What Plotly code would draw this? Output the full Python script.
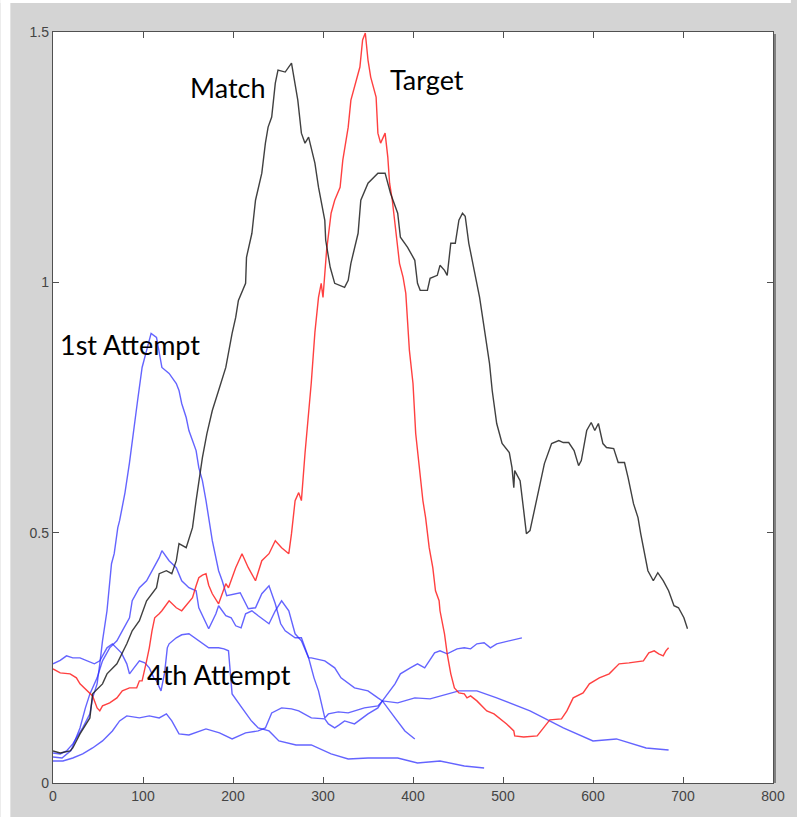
import plotly.graph_objects as go

# ---------------- data ----------------
match_x = [0, 8, 19, 22, 30, 41, 44, 55, 60, 71, 82, 88, 96, 104, 115, 118, 126, 132, 137, 140, 148, 155, 159, 162, 166, 171, 177, 184, 192, 199, 203, 206, 214, 215, 221, 225, 232, 236, 239, 243, 247, 250, 258, 265, 269, 272, 276, 280, 284, 287, 291, 295, 298, 302, 303, 308, 313, 324, 328, 331, 339, 342, 350, 361, 369, 372, 375, 383, 386, 394, 402, 405, 408, 416, 419, 427, 430, 435, 438, 442, 447, 451, 455, 458, 462, 468, 474, 479, 485, 488, 493, 499, 507, 510, 512, 513, 519, 523, 526, 530, 534, 541, 546, 554, 562, 567, 573, 579, 584, 587, 593, 598, 602, 606, 611, 615, 623, 628, 635, 639, 645, 650, 653, 661, 667, 672, 678, 684, 690, 695, 701, 705]
match_y = [0.064, 0.06, 0.064, 0.07, 0.098, 0.13, 0.178, 0.198, 0.218, 0.238, 0.278, 0.304, 0.324, 0.364, 0.39, 0.418, 0.424, 0.418, 0.444, 0.478, 0.47, 0.51, 0.564, 0.604, 0.65, 0.698, 0.744, 0.784, 0.83, 0.898, 0.93, 0.964, 0.998, 1.05, 1.098, 1.164, 1.218, 1.278, 1.31, 1.33, 1.398, 1.424, 1.42, 1.438, 1.398, 1.364, 1.298, 1.278, 1.29, 1.27, 1.238, 1.19, 1.164, 1.124, 1.084, 1.03, 0.998, 0.99, 1.004, 1.038, 1.098, 1.164, 1.198, 1.218, 1.218, 1.198, 1.178, 1.138, 1.09, 1.07, 1.044, 0.998, 0.984, 0.984, 1.008, 1.014, 1.034, 1.024, 1.014, 1.078, 1.078, 1.124, 1.138, 1.132, 1.078, 1.024, 0.97, 0.91, 0.838, 0.784, 0.718, 0.678, 0.66, 0.63, 0.59, 0.624, 0.604, 0.544, 0.498, 0.504, 0.538, 0.598, 0.638, 0.678, 0.684, 0.68, 0.68, 0.664, 0.634, 0.644, 0.704, 0.72, 0.704, 0.718, 0.678, 0.67, 0.668, 0.64, 0.64, 0.61, 0.558, 0.53, 0.498, 0.424, 0.404, 0.42, 0.404, 0.384, 0.354, 0.35, 0.33, 0.308]

target_x = [0, 8, 19, 26, 30, 38, 44, 49, 52, 55, 63, 71, 77, 85, 93, 96, 99, 104, 107, 110, 113, 118, 121, 129, 137, 143, 149, 155, 159, 162, 166, 170, 173, 177, 184, 192, 195, 203, 210, 217, 225, 232, 240, 247, 254, 262, 265, 269, 273, 276, 280, 284, 287, 291, 295, 298, 300, 304, 309, 313, 319, 322, 328, 331, 335, 341, 344, 347, 350, 353, 359, 361, 364, 369, 372, 374, 377, 381, 383, 385, 389, 392, 396, 400, 403, 407, 411, 414, 418, 422, 425, 429, 430, 435, 438, 442, 446, 451, 457, 460, 464, 471, 482, 490, 497, 504, 512, 513, 523, 538, 545, 552, 565, 571, 578, 589, 596, 607, 618, 629, 640, 656, 662, 668, 673, 678, 681, 684]
target_y = [0.228, 0.22, 0.218, 0.21, 0.198, 0.184, 0.174, 0.15, 0.144, 0.154, 0.16, 0.17, 0.184, 0.19, 0.19, 0.204, 0.204, 0.244, 0.27, 0.304, 0.33, 0.338, 0.344, 0.364, 0.35, 0.344, 0.358, 0.37, 0.394, 0.41, 0.415, 0.418, 0.395, 0.378, 0.358, 0.398, 0.39, 0.43, 0.458, 0.43, 0.404, 0.444, 0.458, 0.484, 0.47, 0.458, 0.498, 0.564, 0.58, 0.564, 0.658, 0.74, 0.8, 0.9, 0.97, 0.998, 0.97, 1.064, 1.138, 1.164, 1.19, 1.244, 1.31, 1.364, 1.39, 1.43, 1.484, 1.498, 1.444, 1.41, 1.37, 1.298, 1.278, 1.298, 1.25, 1.198, 1.164, 1.098, 1.064, 1.038, 1.01, 0.978, 0.864, 0.798, 0.698, 0.63, 0.564, 0.53, 0.47, 0.43, 0.384, 0.364, 0.344, 0.298, 0.258, 0.218, 0.19, 0.18, 0.178, 0.17, 0.174, 0.164, 0.144, 0.138, 0.128, 0.118, 0.104, 0.094, 0.092, 0.094, 0.11, 0.126, 0.128, 0.144, 0.17, 0.18, 0.198, 0.21, 0.218, 0.238, 0.24, 0.244, 0.26, 0.264, 0.258, 0.254, 0.264, 0.27]

attempt1_x = [0, 8, 15, 22, 33, 41, 44, 49, 52, 55, 60, 63, 65, 68, 72, 74, 80, 85, 89, 94, 99, 104, 109, 115, 118, 121, 129, 137, 140, 143, 148, 151, 155, 159, 162, 166, 170, 173, 177, 184, 188, 193, 203, 208, 217, 225, 232, 240, 247, 253, 258, 269, 276, 280, 284, 290, 295, 302, 306, 317, 328, 337, 346, 361, 366, 380, 386, 397, 405, 413, 424, 430, 438, 449, 457, 464, 471, 479, 486, 493, 508, 521]
attempt1_y = [0.06, 0.058, 0.064, 0.078, 0.11, 0.138, 0.17, 0.198, 0.238, 0.284, 0.344, 0.404, 0.438, 0.458, 0.51, 0.524, 0.58, 0.64, 0.7, 0.764, 0.83, 0.864, 0.898, 0.89, 0.858, 0.83, 0.818, 0.798, 0.784, 0.758, 0.73, 0.704, 0.684, 0.664, 0.63, 0.604, 0.564, 0.53, 0.484, 0.424, 0.404, 0.374, 0.378, 0.38, 0.348, 0.35, 0.378, 0.394, 0.358, 0.318, 0.304, 0.29, 0.29, 0.27, 0.25, 0.21, 0.184, 0.13, 0.138, 0.142, 0.14, 0.145, 0.15, 0.154, 0.164, 0.198, 0.218, 0.23, 0.238, 0.23, 0.26, 0.264, 0.258, 0.268, 0.27, 0.268, 0.278, 0.28, 0.27, 0.278, 0.284, 0.29]

attempt2_x = [0, 10, 20, 30, 36, 41, 49, 55, 63, 71, 77, 85, 88, 96, 104, 110, 115, 118, 121, 129, 137, 143, 151, 159, 162, 167, 173, 181, 184, 192, 198, 203, 209, 214, 221, 228, 240, 247, 254, 262, 269, 276, 284, 287, 302, 313, 320, 335, 350, 361, 366, 380, 391, 402]
attempt2_y = [0.052, 0.05, 0.065, 0.11, 0.15, 0.178, 0.21, 0.244, 0.27, 0.284, 0.304, 0.33, 0.364, 0.39, 0.404, 0.424, 0.438, 0.45, 0.464, 0.444, 0.43, 0.404, 0.39, 0.384, 0.35, 0.33, 0.308, 0.338, 0.354, 0.334, 0.33, 0.314, 0.31, 0.338, 0.344, 0.334, 0.318, 0.344, 0.364, 0.344, 0.298, 0.284, 0.25, 0.25, 0.244, 0.23, 0.21, 0.19, 0.184, 0.17, 0.164, 0.13, 0.104, 0.088]

attempt3_x = [0, 11, 22, 33, 44, 55, 66, 74, 82, 96, 107, 118, 126, 132, 140, 151, 170, 185, 199, 214, 228, 236, 243, 254, 265, 273, 287, 302, 306, 313, 318, 324, 335, 350, 361, 366, 383, 402, 419, 438, 451, 471, 493, 530, 567, 600, 626, 659, 684]
attempt3_y = [0.044, 0.044, 0.05, 0.058, 0.07, 0.084, 0.104, 0.124, 0.134, 0.13, 0.134, 0.13, 0.138, 0.124, 0.098, 0.096, 0.108, 0.1, 0.088, 0.1, 0.104, 0.11, 0.14, 0.15, 0.148, 0.144, 0.13, 0.128, 0.118, 0.11, 0.116, 0.124, 0.118, 0.138, 0.15, 0.164, 0.16, 0.17, 0.168, 0.178, 0.184, 0.184, 0.17, 0.144, 0.11, 0.084, 0.088, 0.07, 0.066]

attempt4_x = [0, 8, 15, 22, 30, 38, 46, 52, 60, 66, 71, 76, 82, 85, 90, 96, 102, 107, 112, 115, 120, 124, 127, 129, 137, 143, 151, 157, 162, 168, 173, 184, 190, 195, 197, 199, 210, 220, 228, 240, 251, 270, 287, 309, 328, 350, 383, 405, 430, 457, 479]
attempt4_y = [0.238, 0.245, 0.254, 0.25, 0.25, 0.244, 0.238, 0.244, 0.27, 0.278, 0.27, 0.26, 0.238, 0.218, 0.23, 0.244, 0.24, 0.23, 0.21, 0.204, 0.184, 0.22, 0.27, 0.278, 0.29, 0.296, 0.298, 0.29, 0.284, 0.276, 0.27, 0.27, 0.268, 0.264, 0.22, 0.178, 0.15, 0.125, 0.11, 0.104, 0.084, 0.076, 0.076, 0.058, 0.048, 0.05, 0.05, 0.04, 0.044, 0.034, 0.03]

x_ticks = [0, 100, 200, 300, 400, 500, 600, 700, 800]
y_ticks = [0, 0.5, 1, 1.5]
y_tick_text = ["0", "0.5", "1", "1.5"]

labels = ["Match", "Target", "1st Attempt", "4th Attempt"]
label_x = [194, 416, 86, 184]
label_y = [1.39, 1.405, 0.876, 0.216]

# ---------------- figure ----------------
W, H = 797, 817
L, R, T, B = 53, 18, 32, 34
pw, ph = W - L - R, H - T - B

BLUE = "rgba(40,40,255,0.72)"
fig = go.Figure()
for xs, ys in [(attempt4_x, attempt4_y), (attempt3_x, attempt3_y),
               (attempt2_x, attempt2_y), (attempt1_x, attempt1_y)]:
    fig.add_trace(go.Scatter(x=xs, y=ys, mode="lines",
                             line=dict(color=BLUE, width=1.4), hoverinfo="skip"))
fig.add_trace(go.Scatter(x=target_x, y=target_y, mode="lines",
                         line=dict(color="rgba(255,30,30,0.85)", width=1.4)))
fig.add_trace(go.Scatter(x=match_x, y=match_y, mode="lines",
                         line=dict(color="rgba(30,30,30,0.85)", width=1.4)))

for t, xx, yy in zip(labels, label_x, label_y):
    fig.add_annotation(x=xx, y=yy, text=t, showarrow=False,
                       font=dict(family="Lato", size=27, color="black"))

# white strips outside the gray frame (left and top)
fig.add_shape(type="rect", xref="paper", yref="paper", layer="below",
              x0=-L / pw, x1=(10 - L) / pw, y0=-B / ph, y1=1 + T / ph,
              fillcolor="white", line_width=0)
fig.add_shape(type="rect", xref="paper", yref="paper", layer="below",
              x0=-L / pw, x1=1 + R / pw, y0=1 + (T - 3) / ph, y1=1 + T / ph,
              fillcolor="white", line_width=0)
# darker shadow along the right edge of the plot box
fig.add_shape(type="line", xref="paper", yref="paper", layer="above",
              x0=1 + 2 / pw, x1=1 + 2 / pw, y0=0, y1=1 - 2 / ph,
              line=dict(color="#808080", width=2))

axis_common = dict(showgrid=False, zeroline=False, showline=True, mirror="ticks",
                   linecolor="#505050", linewidth=1.3, ticks="inside", ticklen=6,
                   tickcolor="#505050", tickfont=dict(family="Liberation Sans", size=14, color="#444"))
fig.update_xaxes(range=[0, 800], tickvals=x_ticks, **axis_common)
fig.update_yaxes(range=[0, 1.5], tickvals=y_ticks, ticktext=y_tick_text, **axis_common)

fig.update_layout(width=W, height=H, margin=dict(l=L, r=R, t=T, b=B, pad=0),
                  paper_bgcolor="#d4d4d4", plot_bgcolor="white", showlegend=False)

fig.write_html("out.html")
